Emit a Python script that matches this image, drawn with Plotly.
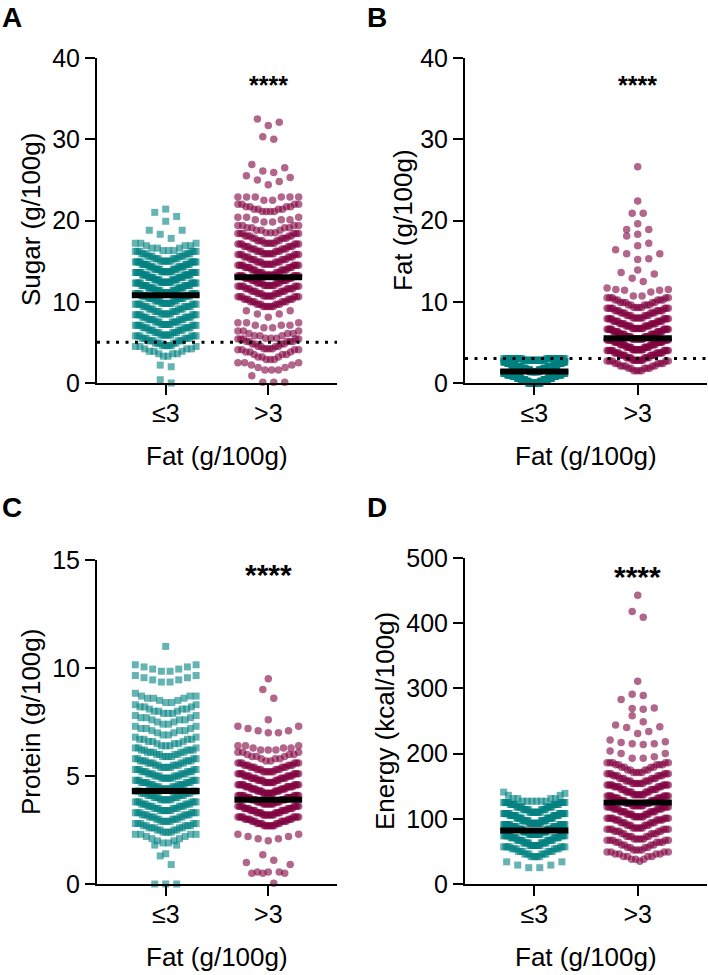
import plotly.graph_objects as go

FONT = "Liberation Sans, Arial, Helvetica, sans-serif"

categories = ["≤3", ">3"]

# ---------------- Panel A: Sugar (g/100g) ----------------
sugar_low_val = [0.0, 0.4, 2.0, 2.2,
                 3.3, 3.6, 3.9, 4.2, 4.5,
                 4.6, 4.9, 5.2, 5.5, 5.8,
                 5.9, 6.2, 6.5, 6.8, 7.1,
                 7.2, 7.5, 7.8, 8.1, 8.4,
                 8.5, 8.8, 9.1, 9.4, 9.7,
                 9.8, 10.1, 10.4, 10.7, 11.0,
                 11.1, 11.4, 11.7, 12.0, 12.3,
                 12.4, 12.7, 13.0, 13.3, 13.6,
                 13.7, 14.0, 14.3, 14.6, 14.9,
                 15.0, 15.3, 15.6, 15.9, 16.2,
                 16.3, 16.6, 16.9, 17.2,
                 17.8, 18.3, 18.8, 19.9, 20.5, 21.0, 21.4]
sugar_low_cnt = [1, 1, 1, 1,
                 2, 3, 3, 3, 3,
                 5, 5, 6, 6, 6,
                 6, 6, 6, 7, 7,
                 6, 7, 7, 7, 7,
                 6, 6, 6, 7, 7,
                 7, 7, 8, 8, 8,
                 9, 9, 10, 10, 10,
                 10, 10, 10, 11, 11,
                 9, 9, 9, 9, 10,
                 6, 6, 6, 6, 6,
                 3, 3, 3, 3,
                 1, 1, 2, 1, 1, 1, 1]
sugar_high_val = [0.1, 0.9,
                  1.6, 1.9, 2.2, 2.5,
                  2.9, 3.2, 3.5, 3.8, 4.1,
                  4.2, 4.5, 4.8, 5.1, 5.4,
                  5.5, 5.8, 6.1, 6.4,
                  6.8, 7.1, 7.4,
                  8.1, 8.5, 8.9,
                  9.4, 9.7, 10.0, 10.3, 10.6,
                  10.7, 11.0, 11.3, 11.6, 11.9,
                  12.0, 12.3, 12.6, 12.9, 13.2,
                  13.3, 13.6, 13.9, 14.2, 14.5,
                  14.6, 14.9, 15.2, 15.5, 15.8,
                  15.9, 16.2, 16.5, 16.8, 17.1,
                  17.2, 17.5, 17.8, 18.1, 18.4,
                  18.5, 18.8, 19.1, 19.4,
                  19.8, 20.1, 20.4,
                  21.1, 21.4, 21.7, 22.0,
                  22.5, 22.9,
                  24.4, 24.8, 25.0, 25.3, 25.5, 25.9, 26.1, 26.5, 26.9,
                  30.0, 30.3, 31.7, 32.1, 32.5]
sugar_high_cnt = [3, 1,
                  3, 2, 2, 3,
                  3, 3, 3, 3, 4,
                  4, 4, 4, 5, 5,
                  3, 3, 3, 3,
                  2, 3, 3,
                  1, 2, 2,
                  6, 6, 6, 6, 6,
                  6, 6, 6, 7, 7,
                  7, 7, 7, 7, 8,
                  7, 7, 7, 7, 8,
                  6, 6, 6, 6, 6,
                  6, 6, 6, 6, 6,
                  5, 5, 5, 5, 6,
                  3, 3, 4, 4,
                  2, 3, 3,
                  4, 4, 4, 4,
                  2, 6,
                  1, 1, 1, 1, 1, 1, 1, 1, 1,
                  1, 1, 1, 1, 1]
sugar_median = [10.8, 13.0]
sugar_threshold = 5

# ---------------- Panel B: Fat (g/100g) ----------------
fat_low_val = [0.0, 0.2, 0.4, 0.6, 0.8, 1.0, 1.2, 1.4, 1.6, 1.8, 2.0, 2.2, 2.4, 2.6, 2.8, 3.0]
fat_low_cnt = [36, 21, 24, 24, 24, 33, 24, 24, 24, 24, 30, 21, 21, 21, 18, 30]
fat_high_val = [1.5, 1.8, 2.1, 2.4, 2.7,
                2.8, 3.1, 3.4, 3.7, 4.0,
                4.1, 4.4, 4.7, 5.0, 5.3,
                5.4, 5.7, 6.0, 6.3, 6.6,
                6.7, 7.0, 7.3, 7.6, 7.9,
                8.0, 8.3, 8.6, 8.9, 9.2,
                9.3, 9.6, 9.9, 10.2, 10.5,
                10.7, 11.2, 11.4, 11.5, 11.7,
                12.5, 12.9, 13.4, 13.6, 13.9,
                15.2, 15.3, 15.9, 16.4, 16.9, 17.2,
                18.1, 18.3, 18.9, 19.6, 20.9, 22.4, 26.6]
fat_high_cnt = [4, 5, 5, 5, 5,
                8, 8, 8, 9, 9,
                10, 10, 10, 11, 11,
                10, 10, 10, 10, 10,
                8, 8, 8, 8, 8,
                6, 6, 6, 7, 7,
                4, 5, 5, 5, 5,
                2, 1, 2, 2, 1,
                1, 1, 1, 1, 1,
                1, 1, 2, 1, 1, 1,
                1, 1, 2, 1, 2, 1, 1]
fat_median = [1.4, 5.5]
fat_threshold = 3

# ---------------- Panel C: Protein (g/100g) ----------------
protein_low_val = [0.0, 0.9, 1.3, 1.4,
                   1.8, 1.9, 2.0, 2.1, 2.2,
                   2.3, 2.4, 2.5, 2.6, 2.7,
                   2.8, 2.9, 3.0, 3.1, 3.2,
                   3.3, 3.4, 3.5, 3.6, 3.7,
                   3.8, 3.9, 4.0, 4.1, 4.2,
                   4.3, 4.4, 4.5, 4.6, 4.7,
                   4.8, 4.9, 5.0, 5.1, 5.2,
                   5.3, 5.4, 5.5, 5.6, 5.7,
                   5.8, 5.9, 6.0, 6.1, 6.2,
                   6.3, 6.4, 6.5, 6.6, 6.7,
                   6.8, 6.9, 7.0, 7.1, 7.2,
                   7.3, 7.4, 7.5, 7.6, 7.7,
                   7.8, 7.9, 8.0, 8.1, 8.2,
                   8.3, 8.4, 8.5, 8.6, 8.7,
                   8.83,
                   9.35, 9.45, 9.55, 9.65,
                   9.85, 9.95, 10.05, 10.15,
                   11.0]
protein_low_cnt = [3, 1, 1, 1,
                   2, 2, 2, 2, 2,
                   4, 4, 4, 5, 5,
                   5, 5, 5, 5, 6,
                   6, 6, 6, 6, 6,
                   6, 6, 6, 6, 6,
                   6, 6, 6, 7, 7,
                   6, 6, 6, 6, 6,
                   5, 5, 5, 5, 6,
                   4, 4, 4, 5, 5,
                   3, 3, 3, 3, 4,
                   2, 2, 2, 3, 3,
                   2, 2, 2, 3, 3,
                   2, 3, 3, 3, 3,
                   2, 2, 2, 3, 3,
                   1,
                   2, 2, 2, 2,
                   2, 2, 2, 2,
                   1]
protein_high_val = [0.03,
                    0.5, 0.55, 0.9,
                    1.0, 1.1, 1.35,
                    2.0, 2.1, 2.2, 2.3,
                    2.7, 2.8, 2.9, 3.0, 3.1,
                    3.2, 3.3, 3.4, 3.5, 3.6,
                    3.7, 3.8, 3.9, 4.0, 4.1,
                    4.2, 4.3, 4.4, 4.5, 4.6,
                    4.7, 4.8, 4.9, 5.0, 5.1,
                    5.2, 5.3, 5.4, 5.5, 5.6,
                    5.7, 5.8, 5.9, 6.0, 6.1,
                    6.2, 6.3, 6.4,
                    7.0, 7.1, 7.2, 7.3,
                    7.6, 8.6, 9.0, 9.5]
protein_high_cnt = [1,
                    3, 3, 1,
                    1, 1, 1,
                    1, 2, 2, 2,
                    7, 7, 7, 7, 8,
                    8, 8, 8, 8, 8,
                    8, 8, 8, 9, 9,
                    8, 8, 8, 9, 9,
                    7, 7, 8, 8, 8,
                    6, 6, 6, 6, 6,
                    2, 3, 3, 3, 3,
                    3, 3, 3,
                    2, 2, 1, 2,
                    1, 1, 1, 1]
protein_median = [4.3, 3.9]

# ---------------- Panel D: Energy (kcal/100g) ----------------
energy_low_val = [25, 29, 34,
                  42, 46, 50, 54, 57,
                  59, 63, 67, 71, 74,
                  76, 80, 84, 88, 91,
                  93, 97, 101, 105, 108,
                  110, 114, 118, 122, 125,
                  127, 131, 136, 139, 141]
energy_low_cnt = [2, 2, 2,
                  5, 6, 6, 6, 7,
                  9, 10, 10, 10, 11,
                  13, 14, 14, 14, 15,
                  13, 13, 13, 13, 14,
                  9, 9, 10, 10, 10,
                  6, 4, 2, 1, 1]
energy_high_val = [35, 38, 42, 46, 49,
                   52, 56, 60, 64, 67,
                   69, 73, 77, 81, 84,
                   86, 90, 94, 98, 101,
                   103, 107, 111, 115, 118,
                   120, 124, 128, 132, 135,
                   137, 141, 145, 149, 152,
                   154, 158, 162, 166, 169,
                   171, 175, 179, 183, 186,
                   193, 195, 200, 204,
                   214, 215, 217, 218, 221,
                   231, 234, 240, 241, 244,
                   249, 258,
                   268, 269, 270, 283,
                   289, 291, 311,
                   409, 418, 443]
energy_high_cnt = [1, 3, 4, 4, 4,
                   4, 4, 4, 5, 5,
                   5, 5, 5, 5, 6,
                   6, 6, 6, 7, 7,
                   7, 7, 8, 8, 8,
                   8, 8, 8, 8, 8,
                   7, 7, 7, 7, 8,
                   6, 6, 6, 6, 6,
                   4, 4, 4, 5, 5,
                   2, 1, 2, 1,
                   1, 2, 1, 1, 1,
                   1, 1, 1, 1, 1,
                   1, 1,
                   1, 1, 1, 1,
                   1, 1, 1,
                   1, 1, 1]
energy_median = [82, 125]

significance = "****"

# ---------------- styling / layout constants ----------------
TEAL = "rgba(0,128,128,0.6)"
PLUM = "rgba(128,0,64,0.6)"
PX_PER_CAT = 103.0      # pixels between the two categories
SLOT_PX = 11.0          # preferred spacing of neighbouring dots
HALF_PX = 30.5          # max half width of a column (dot centres)
ROW_PX = 10.5           # vertical size of a swarm row


def expand(vals, cnts):
    out = []
    for v, c in zip(vals, cnts):
        out.extend([v] * c)
    return sorted(out)


def swarm(vals, cnts, center, px_per_unit):
    pts = expand(vals, cnts)
    binw = ROW_PX / px_per_unit
    rows, cur, start = [], [], None
    for v in pts:
        if start is None or v >= start + binw - 1e-9:
            if cur:
                rows.append(cur)
            cur, start = [v], v
        else:
            cur.append(v)
    if cur:
        rows.append(cur)
    xs, ys = [], []
    for row in rows:
        n = len(row)
        step = SLOT_PX if n == 1 else min(SLOT_PX, 2 * HALF_PX / (n - 1))
        offs = []
        k = 0.5
        if n % 2 == 1:
            offs.append(0.0)
            k = 1.0
        while len(offs) < n:
            offs.append(k * step)
            if len(offs) < n:
                offs.append(-k * step)
            k += 1
        for v, o in zip(row, offs):
            xs.append(center + o / PX_PER_CAT)
            ys.append(v)
    return xs, ys


W, H = 708, 975
fig = go.Figure()

panels = [
    ("x", "y", (sugar_low_val, sugar_low_cnt), (sugar_high_val, sugar_high_cnt), sugar_median, 325 / 40),
    ("x2", "y2", (fat_low_val, fat_low_cnt), (fat_high_val, fat_high_cnt), fat_median, 325 / 40),
    ("x3", "y3", (protein_low_val, protein_low_cnt), (protein_high_val, protein_high_cnt), protein_median, 324 / 15),
    ("x4", "y4", (energy_low_val, energy_low_cnt), (energy_high_val, energy_high_cnt), energy_median, 326 / 500),
]

for xa, ya, low, high, med, ppu in panels:
    lx, ly = swarm(low[0], low[1], 0, ppu)
    hx, hy = swarm(high[0], high[1], 1, ppu)
    fig.add_trace(go.Scatter(x=lx, y=ly, mode="markers", xaxis=xa, yaxis=ya,
                             marker=dict(symbol="square", size=7, color=TEAL, line=dict(width=0)),
                             cliponaxis=False, showlegend=False, hoverinfo="y"))
    fig.add_trace(go.Scatter(x=hx, y=hy, mode="markers", xaxis=xa, yaxis=ya,
                             marker=dict(symbol="circle", size=7.5, color=PLUM, line=dict(width=0)),
                             cliponaxis=False, showlegend=False, hoverinfo="y"))
    for i, m in enumerate(med):
        fig.add_trace(go.Scatter(x=[i - 0.33, i + 0.33], y=[m, m], mode="lines", xaxis=xa, yaxis=ya,
                                 line=dict(color="black", width=6), cliponaxis=False,
                                 showlegend=False, hoverinfo="skip"))

for xr_, yr_, val in [("x domain", "y", sugar_threshold), ("x2 domain", "y2", fat_threshold)]:
    fig.add_shape(type="line", xref=xr_, yref=yr_, x0=0, x1=1, y0=val, y1=val,
                  line=dict(color="black", width=3, dash="3px,6.5px"), layer="above")

axis_common = dict(showline=True, linecolor="black", linewidth=2, ticks="outside",
                   ticklen=10, tickwidth=2, tickcolor="black", showgrid=False, zeroline=False,
                   automargin=False,
                   tickfont=dict(size=25, color="black", family=FONT), fixedrange=True)

xl = [97 / W, 337 / W]
xr = [465 / W, 707 / W]
yt = [(H - 383) / H, (H - 58) / H]
yb3 = [(H - 884) / H, (H - 560) / H]
yb4 = [(H - 884) / H, (H - 558) / H]


def xaxis(domain, anchor):
    return dict(axis_common, domain=domain, anchor=anchor, range=[-0.67, 1.67],
                tickvals=[0, 1], ticktext=categories, ticklabelstandoff=-3)


def yaxis(domain, anchor, rng, ticks):
    return dict(axis_common, domain=domain, anchor=anchor, range=rng, tickvals=ticks)


fig.update_layout(
    width=W, height=H, margin=dict(l=0, r=0, t=0, b=0, autoexpand=False),
    paper_bgcolor="white", plot_bgcolor="white", showlegend=False,
    font=dict(family=FONT, color="black"),
    xaxis=xaxis(xl, "y"), yaxis=yaxis(yt, "x", [0, 40], [0, 10, 20, 30, 40]),
    xaxis2=xaxis(xr, "y2"), yaxis2=yaxis(yt, "x2", [0, 40], [0, 10, 20, 30, 40]),
    xaxis3=xaxis(xl, "y3"), yaxis3=yaxis(yb3, "x3", [0, 15], [0, 5, 10, 15]),
    xaxis4=xaxis(xr, "y4"), yaxis4=yaxis(yb4, "x4", [0, 500], [0, 100, 200, 300, 400, 500]),
)

ann = []
for txt, x, y in [("A", 0, 17), ("B", 365, 17), ("C", 0, 508), ("D", 365, 508)]:
    ann.append(dict(text="<b>%s</b>" % txt, x=x / W, y=1 - y / H, xref="paper", yref="paper",
                    xanchor="left", yanchor="middle", showarrow=False,
                    font=dict(size=28, family=FONT, color="black")))
for txt, x, y in [("Sugar (g/100g)", 31, 220), ("Fat (g/100g)", 403, 220),
                  ("Protein (g/100g)", 31, 722), ("Energy (kcal/100g)", 385, 721)]:
    ann.append(dict(text=txt, x=x / W, y=1 - y / H, xref="paper", yref="paper", textangle=-90,
                    xanchor="center", yanchor="middle", showarrow=False,
                    font=dict(size=26, family=FONT, color="black")))
for x, y in [(217, 456), (586, 456), (217, 957), (586, 957)]:
    ann.append(dict(text="Fat (g/100g)", x=x / W, y=1 - y / H, xref="paper", yref="paper",
                    xanchor="center", yanchor="middle", showarrow=False,
                    font=dict(size=26, family=FONT, color="black")))
for xa, ya, yv, fs in [("x", "y", 36.7, 25), ("x2", "y2", 36.7, 25),
                       ("x3", "y3", 14.33, 30), ("x4", "y4", 472, 30)]:
    ann.append(dict(text="<b>%s</b>" % significance, x=1, y=yv, xref=xa, yref=ya,
                    xanchor="center", yanchor="middle", showarrow=False,
                    font=dict(size=fs, family=FONT, color="black")))
fig.update_layout(annotations=ann)

fig.write_html("out.html", config={"displayModeBar": False},
               post_script="document.body.style.margin='0';document.body.style.padding='0';"
                           "document.documentElement.style.overflow='hidden';")
